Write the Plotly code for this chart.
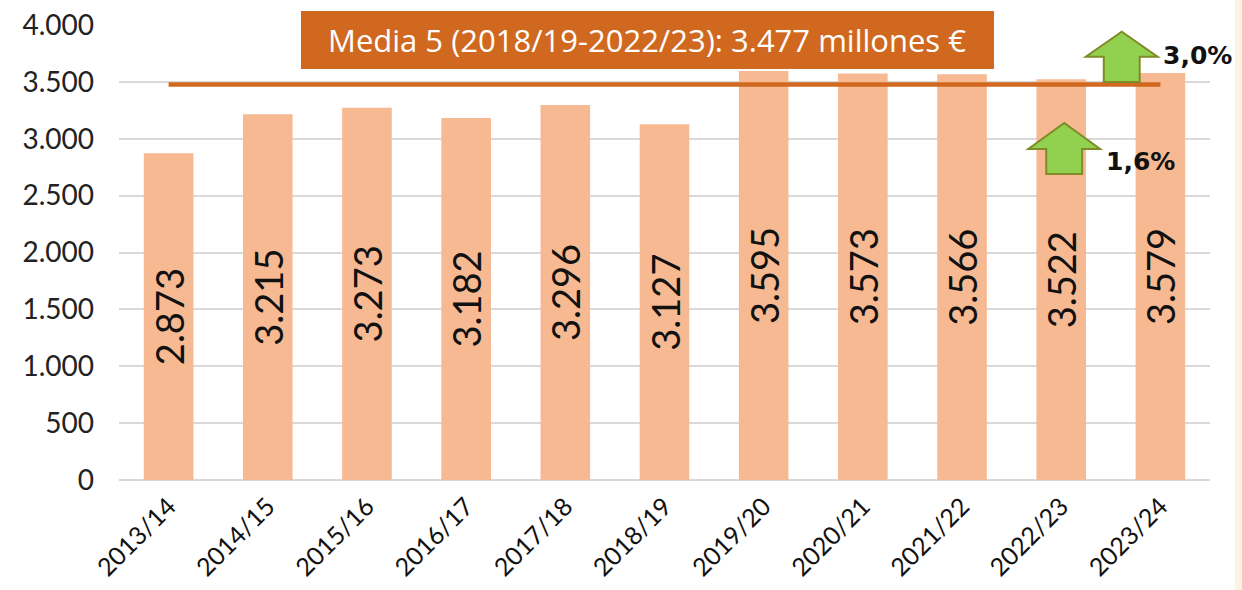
import plotly.graph_objects as go

categories = ["2013/14", "2014/15", "2015/16", "2016/17", "2017/18", "2018/19",
              "2019/20", "2020/21", "2021/22", "2022/23", "2023/24"]
values = [2873, 3215, 3273, 3182, 3296, 3127, 3595, 3573, 3566, 3522, 3579]
average_5 = 3477
title_text = "Media 5 (2018/19-2022/23): 3.477 millones €"
changes = [("1,6%", 9.03, 2690, 2910, 3138), ("3,0%", 9.61, 3499, 3721, 3941)]

BAR = "#F7B992"
ORANGE = "#D0691F"
GREEN = "#92D050"
OLIVE = "#7F8B26"

fig = go.Figure()
fig.add_trace(go.Bar(
    x=categories, y=values, marker=dict(color=BAR, line=dict(width=0)),
    texttemplate="%{y:,d}", textposition="inside", insidetextanchor="middle",
    textangle=-90, textfont=dict(family="Lato", size=38, color="#111"),
    constraintext="none", hoverinfo="skip"))
fig.add_trace(go.Scatter(
    x=[categories[0], categories[-1]], y=[average_5, average_5], mode="lines",
    line=dict(color=ORANGE, width=4.5), hoverinfo="skip"))

shapes = [dict(type="rect", xref="paper", yref="paper", x0=1.0229, x1=1.3, y0=-0.5, y1=1.2,
               fillcolor="#F8F4E0", line=dict(width=0), layer="above"),
          dict(type="rect", xref="paper", yref="paper", x0=0.1668, x1=0.802, y0=0.9033, y1=1.0308,
               fillcolor=ORANGE, line=dict(width=0), layer="above")]
annotations = [dict(xref="paper", yref="paper", x=0.484, y=0.968, text=title_text,
                    showarrow=False, font=dict(family="Open Sans", size=31, color="white"),
                    xanchor="center", yanchor="middle")]
for label, cx, yb, yh, yt in changes:
    hw, sw = 0.362, 0.181
    path = (f"M {cx - sw} {yb} L {cx + sw} {yb} L {cx + sw} {yh} L {cx + hw} {yh} "
            f"L {cx} {yt} L {cx - hw} {yh} L {cx - sw} {yh} Z")
    shapes.append(dict(type="path", xref="x", yref="y", path=path, fillcolor=GREEN,
                       line=dict(color=OLIVE, width=2), layer="above"))
    annotations.append(dict(xref="x", yref="y", x=cx + 0.40, y=(yb + yh) / 2 if label == "1,6%" else yh + 15,
                            text=f"<b>{label}</b>", showarrow=False, xanchor="left", yanchor="middle",
                            font=dict(family="DejaVu Sans", size=25, color="#111")))

fig.update_layout(
    width=1242, height=590, separators=",.",
    margin=dict(l=119, r=32, t=25, b=110, autoexpand=False),
    paper_bgcolor="white", plot_bgcolor="white", showlegend=False,
    bargap=0.5, shapes=shapes, annotations=annotations,
    xaxis=dict(type="category", range=[-0.5, 10.5], tickangle=-45, showgrid=False,
               showline=False, ticks="", ticklabelstandoff=6, automargin=False,
               tickfont=dict(family="Lato", size=25, color="#111")),
    yaxis=dict(range=[0, 4000], dtick=500, tickformat=",d", showgrid=True, automargin=False,
               gridcolor="#D9D9D9", gridwidth=1.5, zeroline=True, zerolinecolor="#D9D9D9",
               zerolinewidth=1.5, showline=False, ticks="", ticklabelstandoff=24,
               tickfont=dict(family="Lato", size=28, color="#222")),
)
fig.write_html("out.html", config={"displayModeBar": False},
               post_script="document.body.style.margin='0';document.body.style.overflow='hidden';")
